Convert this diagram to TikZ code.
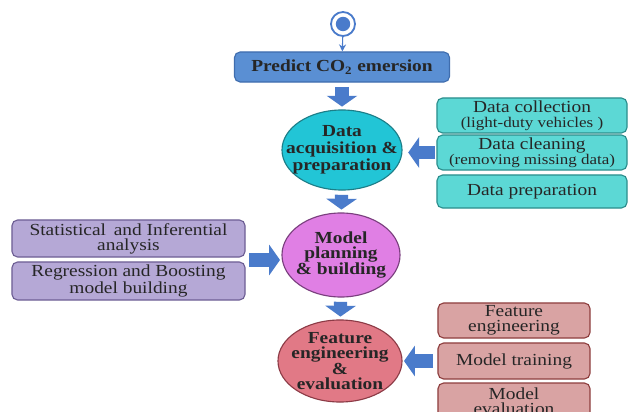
\documentclass[tikz,border=0pt]{standalone}
\usepackage{fontspec}
\setmainfont{Liberation Serif}[FakeStretch=1.15]
\usepackage{tikz}
\usetikzlibrary{arrows.meta,shapes.geometric}
\definecolor{arrblue}{HTML}{4A7BCB}
\definecolor{predfill}{HTML}{5A8FD3}
\definecolor{predline}{HTML}{3F6DAE}
\definecolor{acqfill}{HTML}{22C5D6}
\definecolor{acqline}{HTML}{1C7E88}
\definecolor{cyanfill}{HTML}{5CD8D5}
\definecolor{cyanline}{HTML}{2B8D8C}
\definecolor{modfill}{HTML}{E07FE4}
\definecolor{modline}{HTML}{7A3F7E}
\definecolor{lavfill}{HTML}{B5A8D6}
\definecolor{lavline}{HTML}{6D5E94}
\definecolor{featfill}{HTML}{E17986}
\definecolor{featline}{HTML}{8C3B46}
\definecolor{rosefill}{HTML}{D9A3A3}
\definecolor{roseline}{HTML}{8E3E3E}

\begin{document}
\begin{tikzpicture}[x=0.025cm, y=-0.025cm,
  boxtxt/.style={font=\fontsize{12}{10.5}\selectfont, align=center, text=black!85},
  sidebox/.style={boxtxt, draw, line width=0.8pt, rounded corners=4pt, inner sep=0pt},
  stage/.style={ellipse, draw, line width=0.8pt, inner xsep=-0.35cm, inner ysep=-0.1cm, align=center,
    font=\fontsize{12}{11}\selectfont\bfseries, text=black!85},
  blockarr/.style={draw=arrblue, line width=0.33cm,
    -{Triangle[width=0.75cm,length=0.27cm]}, shorten <=3pt, shorten >=2pt}]
\clip (0,0) rectangle (628,412);
\fill[white] (0,0) rectangle (628,412);

% 開始
\node[circle, draw=arrblue, line width=1.3pt, fill=white, minimum size=0.6cm, inner sep=0] (start) at (343,24) {};
\node[circle, fill=arrblue, minimum size=0.36cm, inner sep=0] (startdot) at (start) {};
\node[boxtxt, draw=predline, fill=predfill, line width=0.8pt, rounded corners=4pt,
  minimum width=5.375cm, minimum height=0.75cm, font=\fontsize{12}{12}\selectfont\bfseries] (predict) at (342,67) {Predict CO\textsubscript{2} emersion};

% 段階(楕円)
\node[stage, draw=acqline, fill=acqfill, minimum width=3.0cm, minimum height=2.0cm,
  font=\fontsize{12}{12}\selectfont\bfseries] (dacq) at (342,150) {Data\\acquisition \&\\preparation};
\node[stage, draw=modline, fill=modfill, minimum width=2.95cm, minimum height=2.1cm] (model) at (341,255) {Model\\planning\\\& building};
\node[stage, draw=featline, fill=featfill, minimum width=3.1cm, minimum height=2.05cm] (feat) at (340,361) {Feature\\engineering\\\&\\evaluation};

% 右側(データ)
\node[sidebox, draw=cyanline, fill=cyanfill, minimum width=4.75cm, minimum height=0.875cm] (dcoll) at (532,115.5) {Data collection\\{\fontsize{10.5}{10.5}\selectfont (light-duty vehicles )}};
\node[sidebox, draw=cyanline, fill=cyanfill, minimum width=4.75cm, minimum height=0.875cm] (dclean) at (532,152.5) {Data cleaning\\{\fontsize{10.5}{10.5}\selectfont (removing missing data)}};
\node[sidebox, draw=cyanline, fill=cyanfill, minimum width=4.75cm, minimum height=0.825cm] (dprep) at (532,191.5) {Data preparation};

% 左側(モデル)
\node[sidebox, draw=lavline, fill=lavfill, minimum width=5.825cm, minimum height=0.925cm] (stat) at (128.5,238.5) {Statistical\, and Inferential\\analysis};
\node[sidebox, draw=lavline, fill=lavfill, minimum width=5.825cm, minimum height=0.95cm] (regr) at (128.5,281) {Regression and Boosting\\model building};
\coordinate (lgap) at (245,260);

% 右側(評価)
\node[sidebox, draw=roseline, fill=rosefill, minimum width=3.8cm, minimum height=0.875cm] (feng) at (514,320.5) {Feature\\engineering};
\node[sidebox, draw=roseline, fill=rosefill, minimum width=3.8cm, minimum height=0.9cm] (mtrain) at (514,361) {Model training};
\node[sidebox, draw=roseline, fill=rosefill, minimum width=3.8cm, minimum height=0.9cm] (meval) at (514,401) {Model\\evaluation};

% 矢印
\draw[-{Stealth[length=5pt,width=5pt]}, draw=arrblue, line width=0.8pt] (start) -- (predict);
\draw[blockarr] (predict) -- (dacq);
\draw[blockarr] (dacq) -- (model);
\draw[blockarr] (model) -- (feat);
\draw[blockarr, shorten <=1pt, shorten >=4pt] (dclean.west) -- (dclean.west -| dacq.east);
\draw[blockarr, shorten <=3pt, shorten >=1pt] (lgap) -- (lgap -| model.west);
\draw[blockarr, shorten <=3pt, shorten >=1pt] (mtrain.west) -- (mtrain.west -| feat.east);
\end{tikzpicture}
\end{document}
